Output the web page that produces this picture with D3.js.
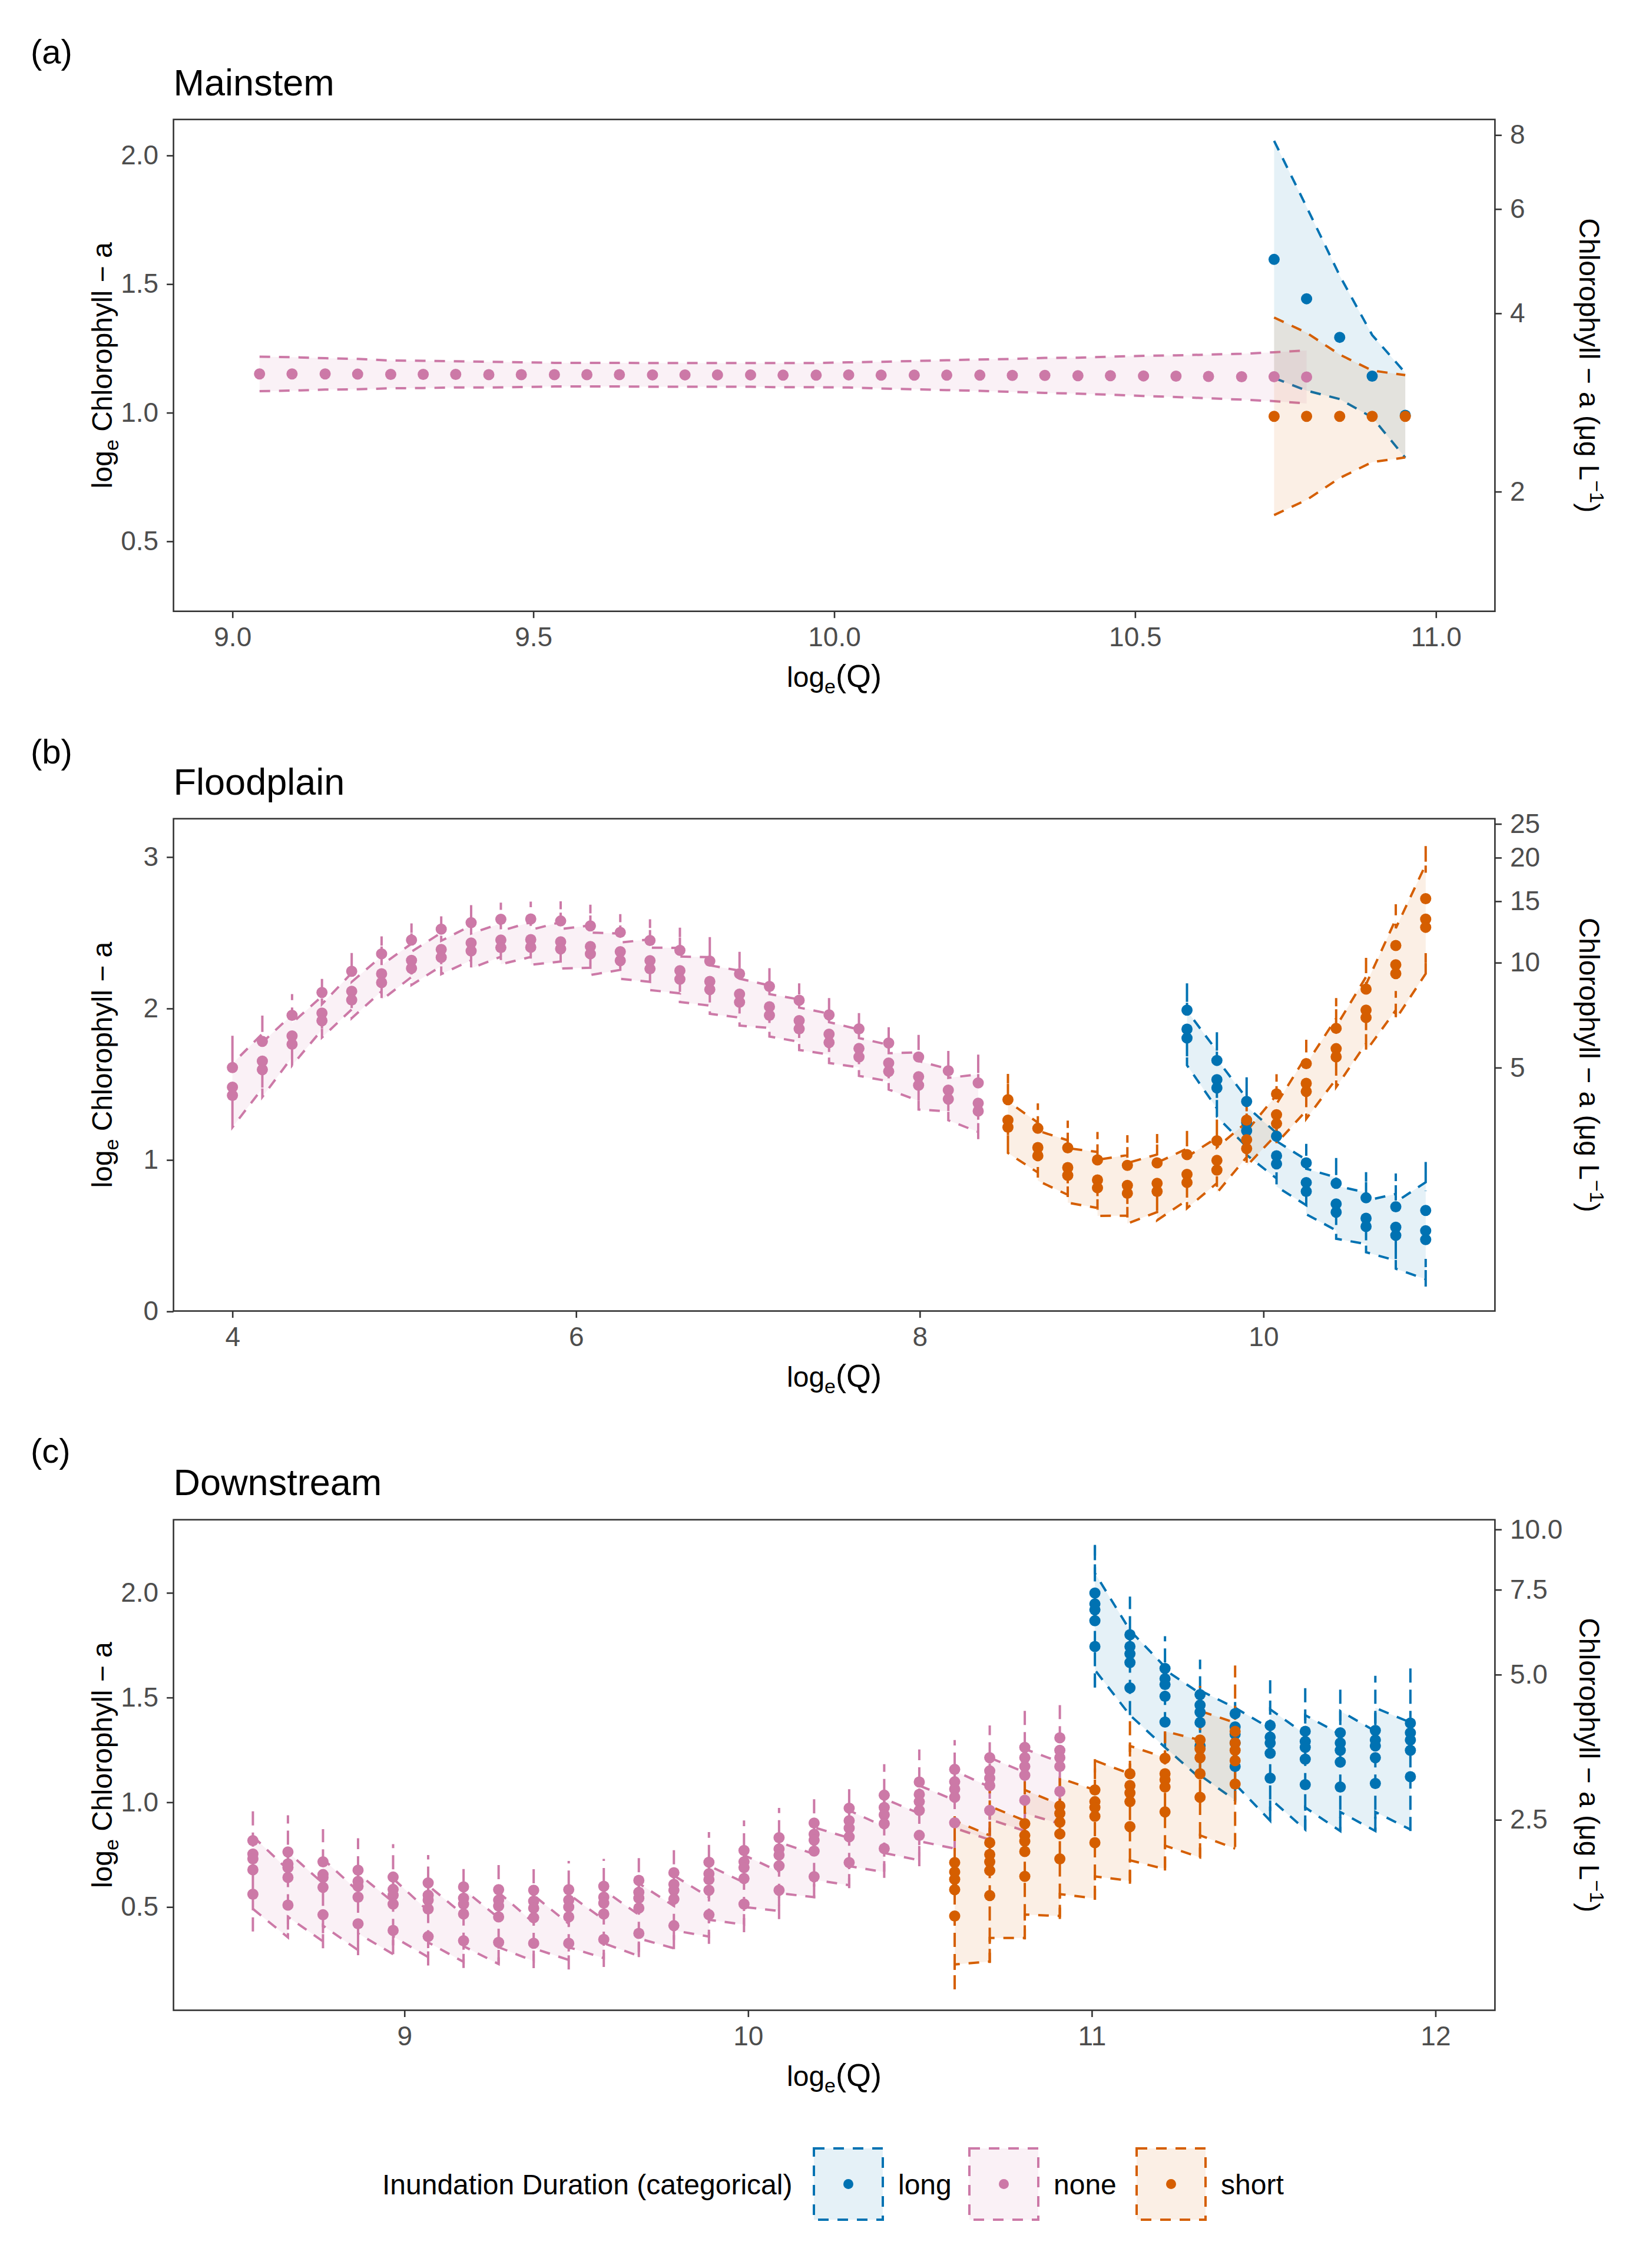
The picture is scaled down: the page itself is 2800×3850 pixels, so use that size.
<!DOCTYPE html>
<html><head><meta charset="utf-8">
<script src="https://cdn.jsdelivr.net/npm/d3@7"></script>
<style>body{margin:0;background:#fff} svg{display:block}</style>
</head><body>
<svg id="chart" width="2800" height="3850"></svg>
<script>
// ---------------- DATA ----------------
const categories = ['long', 'none', 'short'];
const colors = ['#0072B2', '#CC79A7', '#D55E00'];

// Panel (a) Mainstem: one row per x  (y and half-width of interval)
const aX_none = [9.045,9.099,9.154,9.208,9.263,9.317,9.371,9.426,9.480,9.535,9.589,9.643,9.698,9.752,9.806,9.861,9.915,9.970,10.024,10.078,10.133,10.187,10.242,10.296,10.350,10.405,10.459,10.514,10.568,10.622,10.677,10.731,10.785];
const aY_none = [1.151,1.151,1.151,1.150,1.149,1.149,1.149,1.148,1.148,1.148,1.148,1.148,1.147,1.147,1.147,1.147,1.146,1.146,1.147,1.146,1.146,1.146,1.146,1.145,1.145,1.144,1.144,1.143,1.142,1.141,1.140,1.140,1.139];
const aW_none = [0.067,0.065,0.061,0.059,0.054,0.053,0.051,0.050,0.048,0.046,0.046,0.046,0.046,0.046,0.046,0.046,0.047,0.047,0.049,0.052,0.055,0.058,0.061,0.064,0.068,0.070,0.074,0.078,0.081,0.085,0.089,0.095,0.103];
const aX_long = [10.731,10.785,10.840,10.894,10.949];
const aY_long = [1.596,1.443,1.293,1.142,0.990];
const aW_long = [0.461,0.357,0.240,0.160,0.165];
const aX_short = [10.731,10.785,10.840,10.894,10.949];
const aY_short = [0.986,0.986,0.986,0.986,0.986];
const aW_short = [0.384,0.325,0.240,0.178,0.160];

// Panel (b) Floodplain: three rows per x [top, mid, bot] + half-width
const bX_none = [4.000,4.174,4.347,4.521,4.694,4.868,5.042,5.215,5.389,5.562,5.736,5.910,6.083,6.257,6.430,6.604,6.778,6.951,7.125,7.298,7.472,7.646,7.819,7.993,8.166,8.340];
const bPts_none = [[1.610,1.481,1.426],[1.783,1.653,1.596],[1.955,1.819,1.764],[2.106,1.970,1.919],[2.246,2.114,2.056],[2.361,2.229,2.171],[2.452,2.318,2.265],[2.524,2.390,2.337],[2.567,2.433,2.380],[2.589,2.452,2.402],[2.591,2.455,2.404],[2.578,2.440,2.394],[2.545,2.409,2.361],[2.503,2.375,2.316],[2.449,2.316,2.262],[2.384,2.250,2.193],[2.313,2.179,2.125],[2.229,2.095,2.042],[2.146,2.012,1.955],[2.054,1.920,1.866],[1.958,1.831,1.775],[1.866,1.736,1.680],[1.772,1.640,1.585],[1.680,1.550,1.493],[1.589,1.461,1.402],[1.509,1.375,1.323]];
const bW_none = [0.21,0.18,0.14,0.11,0.12,0.115,0.11,0.11,0.115,0.11,0.115,0.13,0.14,0.12,0.14,0.15,0.16,0.155,0.14,0.14,0.135,0.125,0.12,0.16,0.14,0.19];
const bX_short = [8.513,8.687,8.861,9.034,9.208,9.381,9.555,9.729,9.902,10.076,10.249,10.423,10.597,10.770,10.944];
const bPts_short = [[1.398,1.263,1.216],[1.209,1.082,1.028],[1.080,0.950,0.898],[1.000,0.868,0.816],[0.964,0.832,0.780],[0.981,0.846,0.792],[1.035,0.905,0.851],[1.127,0.997,0.933],[1.263,1.134,1.075],[1.436,1.299,1.240],[1.636,1.506,1.452],[1.869,1.735,1.681],[2.128,1.989,1.940],[2.416,2.289,2.230],[2.725,2.590,2.536]];
const bW_short = [0.17,0.165,0.18,0.185,0.2,0.19,0.17,0.15,0.115,0.13,0.18,0.2,0.22,0.3,0.36];
const bX_long = [9.555,9.729,9.902,10.076,10.249,10.423,10.597,10.770,10.944];
const bPts_long = [[1.989,1.864,1.805],[1.657,1.530,1.476],[1.386,1.247,1.193],[1.157,1.028,0.974],[0.981,0.851,0.792],[0.846,0.710,0.655],[0.750,0.615,0.561],[0.691,0.556,0.502],[0.667,0.533,0.474]];
const bW_long = [0.18,0.19,0.16,0.15,0.15,0.175,0.17,0.22,0.32];

// Panel (c) Downstream: five rows per x, ribbon entry/exit values and interval line
const cX_none = [8.559,8.661,8.763,8.865,8.967,9.069,9.172,9.274,9.376,9.478,9.580,9.682,9.784,9.886,9.988,10.090,10.192,10.294,10.396,10.498,10.601,10.703,10.805,10.907];
const cPts_none = [[0.817,0.753,0.730,0.678,0.561],[0.763,0.706,0.688,0.641,0.509],[0.716,0.655,0.641,0.594,0.463],[0.676,0.622,0.599,0.547,0.420],[0.643,0.584,0.556,0.514,0.388],[0.615,0.556,0.533,0.491,0.359],[0.596,0.542,0.514,0.467,0.339],[0.583,0.533,0.505,0.453,0.331],[0.580,0.528,0.495,0.449,0.327],[0.583,0.533,0.500,0.453,0.327],[0.599,0.547,0.519,0.467,0.345],[0.627,0.570,0.542,0.495,0.374],[0.664,0.608,0.580,0.538,0.411],[0.714,0.659,0.631,0.580,0.463],[0.770,0.716,0.688,0.636,0.514],[0.831,0.777,0.748,0.697,0.580],[0.901,0.847,0.819,0.767,0.645],[0.972,0.912,0.877,0.835,0.712],[1.034,0.975,0.940,0.898,0.779],[1.097,1.038,1.003,0.961,0.842],[1.157,1.098,1.063,1.024,0.902],[1.213,1.150,1.115,1.080,0.961],[1.262,1.213,1.171,1.129,1.010],[1.308,1.248,1.213,1.171,1.052]];
const cUpIn_none  = [0.838,0.678,0.613,0.575,0.524,0.481,0.463,0.448,0.425,0.420,0.439,0.463,0.505,0.547,0.617,0.669,0.753,0.830,0.884,0.947,1.010,1.073,1.143,1.192];
const cUpOut_none = [0.838,0.762,0.730,0.659,0.636,0.603,0.584,0.570,0.556,0.561,0.580,0.613,0.650,0.697,0.748,0.809,0.880,0.961,1.017,1.080,1.150,1.213,1.255,1.192];
const cLoIn_none  = [0.491,0.355,0.336,0.294,0.275,0.261,0.238,0.228,0.242,0.247,0.256,0.266,0.303,0.359,0.416,0.481,0.547,0.604,0.667,0.723,0.779,0.821,0.863,0.898];
const cLoOut_none = [0.491,0.453,0.411,0.374,0.359,0.331,0.313,0.308,0.303,0.308,0.327,0.350,0.388,0.439,0.500,0.566,0.630,0.695,0.758,0.814,0.877,0.919,0.947,0.898];
const cVTop_none  = [0.969,0.938,0.872,0.828,0.800,0.748,0.711,0.720,0.711,0.720,0.730,0.761,0.805,0.858,0.913,0.973,1.027,1.080,1.182,1.252,1.297,1.367,1.437,1.464];
const cVBot_none  = [0.383,0.392,0.303,0.270,0.275,0.221,0.209,0.228,0.208,0.202,0.214,0.261,0.299,0.324,0.380,0.442,0.542,0.590,0.639,0.695,0.765,0.814,0.863,0.891];

const cX_short = [10.601,10.703,10.805,10.907,11.009,11.111,11.213,11.315,11.417];
const cPts_short = [[0.712,0.667,0.632,0.583,0.457],[0.807,0.751,0.716,0.674,0.555],[0.898,0.842,0.814,0.765,0.646],[0.982,0.947,0.905,0.849,0.730],[1.059,1.003,0.975,0.933,0.807],[1.136,1.080,1.045,1.003,0.884],[1.210,1.136,1.108,1.073,0.954],[1.297,1.255,1.213,1.136,1.024],[1.339,1.283,1.248,1.199,1.087]];
const cUpIn_short  = [0.933,0.842,0.912,0.989,1.059,1.136,1.213,1.297,1.380];
const cUpOut_short = [0.912,0.982,1.059,1.115,1.199,1.269,1.339,1.436,1.380];
const cLoIn_short  = [0.107,0.240,0.352,0.457,0.541,0.625,0.681,0.737,0.779];
const cLoOut_short = [0.226,0.352,0.464,0.562,0.646,0.723,0.793,0.842,0.779];
const cVTop_short  = [0.933,1.143,1.100,1.115,1.206,1.415,1.339,1.555,1.653];
const cVBot_short  = [0.107,0.233,0.345,0.443,0.534,0.611,0.674,0.737,0.786];

const cX_long = [11.009,11.111,11.213,11.315,11.417,11.519,11.621,11.723,11.825,11.927];
const cPts_long = [[1.999,1.947,1.919,1.867,1.744],[1.800,1.744,1.709,1.667,1.546],[1.639,1.590,1.562,1.506,1.383],[1.514,1.464,1.430,1.381,1.269],[1.423,1.360,1.325,1.283,1.171],[1.367,1.311,1.283,1.234,1.115],[1.339,1.290,1.262,1.206,1.084],[1.332,1.283,1.248,1.192,1.073],[1.343,1.297,1.269,1.213,1.090],[1.378,1.332,1.297,1.248,1.122]];
const cUpIn_long  = [2.229,1.821,1.646,1.520,1.451,1.353,1.325,1.325,1.339,1.381];
const cUpOut_long = [2.094,1.821,1.632,1.534,1.451,1.444,1.416,1.436,1.451,1.381];
const cLoIn_long  = [1.548,1.416,1.262,1.115,1.010,0.912,0.870,0.863,0.863,0.870];
const cLoOut_long = [1.632,1.416,1.262,1.129,1.087,1.017,0.975,0.954,0.954,0.870];
const cVTop_long  = [2.229,1.982,1.793,1.681,1.479,1.583,1.569,1.555,1.604,1.646];
const cVBot_long  = [1.548,1.416,1.262,1.129,1.010,0.912,0.870,0.863,0.863,0.863];

// Tick labels
const aXTicks = [9.0, 9.5, 10.0, 10.5, 11.0];
const aYTicks = [0.5, 1.0, 1.5, 2.0];
const aRLabels = [2, 4, 6, 8];
const bXTicks = [4, 6, 8, 10];
const bYTicks = [0, 1, 2, 3];
const bRLabels = [5, 10, 15, 20, 25];
const cXTicks = [9, 10, 11, 12];
const cYTicks = [0.5, 1.0, 1.5, 2.0];
const cRLabels = [2.5, 5.0, 7.5, 10.0];

// ---------------- BUILD ----------------
const FONT = "'Liberation Sans', Arial, Helvetica, sans-serif";
const COL = {}; categories.forEach((c, i) => COL[c] = colors[i]);
const svg = d3.select('#chart');
svg.append('rect').attr('width', 2800).attr('height', 3850).attr('fill', '#fff');

const PL = 294.6, PR_ = 2538.4;
const DASH = '18,15', LW = 4, RAD = 9.5;

function seriesA(key, xs, ys, ws) {
  const rows = xs.map((x, i) => ({x, lo: ys[i] - ws[i], hi: ys[i] + ws[i]}));
  const points = xs.map((x, i) => ({x, y: ys[i]}));
  return {key, rows, points, vlines: []};
}
function seriesB(key, xs, pts, ws) {
  const rows = [], points = [];
  xs.forEach((x, i) => {
    const [t, m, b] = pts[i], w = ws[i];
    [m, t, b].forEach(v => rows.push({x, lo: v - w, hi: v + w}));
    pts[i].forEach(v => points.push({x, y: v}));
  });
  return {key, rows, points, vlines: []};
}
function seriesC(key, xs, pts, upIn, upOut, loIn, loOut, vTop, vBot) {
  const rows = [], points = [], vlines = [];
  xs.forEach((x, i) => {
    rows.push({x, lo: loIn[i], hi: upIn[i]});
    rows.push({x, lo: loOut[i], hi: upOut[i]});
    pts[i].forEach(v => points.push({x, y: v}));
    vlines.push({x, y0: vBot[i], y1: vTop[i]});
  });
  return {key, rows, points, vlines};
}

const panels = [
  {id: 'a', tag: '(a)', title: 'Mainstem', top: 202.8, bottom: 1037.7, xDomain: [8.902, 11.098], yDomain: [0.228, 2.140],
   xTicks: aXTicks, xFmt: d3.format('.1f'), yTicks: aYTicks, yFmt: d3.format('.1f'), rLabels: aRLabels, rFmt: d3.format('d'),
   tagY: 108, titleY: 162,
   series: [seriesA('long', aX_long, aY_long, aW_long), seriesA('none', aX_none, aY_none, aW_none), seriesA('short', aX_short, aY_short, aW_short)]},
  {id: 'b', tag: '(b)', title: 'Floodplain', top: 1389.8, bottom: 2225.5, xDomain: [3.657, 11.347], yDomain: [0.0027, 3.253],
   xTicks: bXTicks, xFmt: d3.format('d'), yTicks: bYTicks, yFmt: d3.format('d'), rLabels: bRLabels, rFmt: d3.format('d'),
   tagY: 1296, titleY: 1349,
   series: [seriesB('long', bX_long, bPts_long, bW_long), seriesB('none', bX_none, bPts_none, bW_none), seriesB('short', bX_short, bPts_short, bW_short)]},
  {id: 'c', tag: '(c)', title: 'Downstream', top: 2579.8, bottom: 3412.5, xDomain: [8.328, 12.173], yDomain: [0.007, 2.349],
   xTicks: cXTicks, xFmt: d3.format('d'), yTicks: cYTicks, yFmt: d3.format('.1f'), rLabels: cRLabels, rFmt: d3.format('.1f'),
   tagY: 2483, titleY: 2538,
   series: [seriesC('long', cX_long, cPts_long, cUpIn_long, cUpOut_long, cLoIn_long, cLoOut_long, cVTop_long, cVBot_long),
            seriesC('none', cX_none, cPts_none, cUpIn_none, cUpOut_none, cLoIn_none, cLoOut_none, cVTop_none, cVBot_none),
            seriesC('short', cX_short, cPts_short, cUpIn_short, cUpOut_short, cLoIn_short, cLoOut_short, cVTop_short, cVBot_short)]}
];

function styleAxis(ax) {
  ax.select('.domain').remove();
  ax.selectAll('.tick line').attr('stroke', '#333333').attr('stroke-width', 2.6);
  ax.selectAll('.tick text').attr('fill', '#4D4D4D').attr('font-size', 46).attr('font-family', FONT);
}

panels.forEach(p => {
  const x = d3.scaleLinear().domain(p.xDomain).range([PL, PR_]);
  const y = d3.scaleLinear().domain(p.yDomain).range([p.bottom, p.top]);
  const g = svg.append('g');
  svg.append('clipPath').attr('id', 'clip' + p.id).append('rect')
    .attr('x', PL).attr('y', p.top).attr('width', PR_ - PL).attr('height', p.bottom - p.top);
  const plot = g.append('g').attr('clip-path', `url(#clip${p.id})`);

  const area = d3.area().x(d => x(d.x)).y0(d => y(d.lo)).y1(d => y(d.hi));
  const upper = d3.line().x(d => x(d.x)).y(d => y(d.hi));
  const lower = d3.line().x(d => x(d.x)).y(d => y(d.lo));

  p.series.forEach(s => {
    plot.append('path').attr('d', area(s.rows)).attr('fill', COL[s.key]).attr('fill-opacity', 0.1).attr('stroke', 'none');
    [upper, lower].forEach(l => plot.append('path').attr('d', l(s.rows)).attr('fill', 'none')
      .attr('stroke', COL[s.key]).attr('stroke-width', LW).attr('stroke-dasharray', DASH));
  });
  p.series.forEach(s => {
    plot.selectAll(null).data(s.vlines).join('line')
      .attr('x1', d => x(d.x)).attr('x2', d => x(d.x)).attr('y1', d => y(d.y0)).attr('y2', d => y(d.y1))
      .attr('stroke', COL[s.key]).attr('stroke-width', LW).attr('stroke-dasharray', '24,12');
  });
  p.series.forEach(s => {
    plot.selectAll(null).data(s.points).join('circle')
      .attr('cx', d => x(d.x)).attr('cy', d => y(d.y)).attr('r', RAD).attr('fill', COL[s.key]);
  });

  // border
  g.append('rect').attr('x', PL).attr('y', p.top).attr('width', PR_ - PL).attr('height', p.bottom - p.top)
    .attr('fill', 'none').attr('stroke', '#333333').attr('stroke-width', 2.6);

  // axes
  styleAxis(g.append('g').attr('transform', `translate(0,${p.bottom})`)
    .call(d3.axisBottom(x).tickValues(p.xTicks).tickFormat(p.xFmt).tickSize(11.5).tickPadding(15)));
  styleAxis(g.append('g').attr('transform', `translate(${PL},0)`)
    .call(d3.axisLeft(y).tickValues(p.yTicks).tickFormat(p.yFmt).tickSize(11.5).tickPadding(14)));
  styleAxis(g.append('g').attr('transform', `translate(${PR_},0)`)
    .call(d3.axisRight(y).tickValues(p.rLabels.map(v => Math.log(v))).tickFormat((d, i) => p.rFmt(p.rLabels[i])).tickSize(11.5).tickPadding(14)));

  // tag & title
  g.append('text').attr('x', 52).attr('y', p.tagY).attr('font-size', 58).attr('font-family', FONT).attr('fill', '#000').text(p.tag);
  g.append('text').attr('x', PL).attr('y', p.titleY).attr('font-size', 63).attr('font-family', FONT).attr('fill', '#000').text(p.title);

  // x axis title
  const xt = g.append('text').attr('x', (PL + PR_) / 2).attr('y', p.bottom + 128).attr('text-anchor', 'middle')
    .attr('font-size', 48).attr('font-family', FONT).attr('fill', '#000');
  xt.append('tspan').text('log');
  xt.append('tspan').attr('font-size', 34).attr('dy', 11).text('e');
  xt.append('tspan').attr('dy', -11).attr('font-size', 54).text('(Q)');

  // left y title
  const cy = (p.top + p.bottom) / 2;
  const yt = g.append('text').attr('transform', `translate(190,${cy}) rotate(-90)`).attr('text-anchor', 'middle')
    .attr('font-size', 48).attr('font-family', FONT).attr('fill', '#000');
  yt.append('tspan').text('log');
  yt.append('tspan').attr('font-size', 34).attr('dy', 11).text('e');
  yt.append('tspan').attr('dy', -11).text(' Chlorophyll \u2212 a');

  // right y title
  const rt = g.append('text').attr('transform', `translate(2682,${cy}) rotate(90)`).attr('text-anchor', 'middle')
    .attr('font-size', 48).attr('font-family', FONT).attr('fill', '#000');
  rt.append('tspan').text('Chlorophyll \u2212 a (\u03BCg L');
  rt.append('tspan').attr('font-size', 34).attr('dy', -18).text('\u22121');
  rt.append('tspan').attr('dy', 18).text(')');
});

// ---------------- LEGEND ----------------
const legend = svg.append('g');
legend.append('text').attr('x', 649).attr('y', 3725).attr('font-size', 48).attr('font-family', FONT).attr('fill', '#000')
  .text('Inundation Duration (categorical)');
const keyX = [1382, 1646, 1930];
categories.forEach((c, i) => {
  const kx = keyX[i], ky = 3647, kw = 117, kh = 121;
  legend.append('rect').attr('x', kx).attr('y', ky).attr('width', kw).attr('height', kh)
    .attr('fill', COL[c]).attr('fill-opacity', 0.1)
    .attr('stroke', COL[c]).attr('stroke-width', LW).attr('stroke-dasharray', DASH);
  legend.append('circle').attr('cx', kx + kw / 2).attr('cy', ky + kh / 2).attr('r', 8.5).attr('fill', COL[c]);
  legend.append('text').attr('x', kx + kw + 26).attr('y', 3725).attr('font-size', 48).attr('font-family', FONT).attr('fill', '#000').text(c);
});
</script>
</body></html>
